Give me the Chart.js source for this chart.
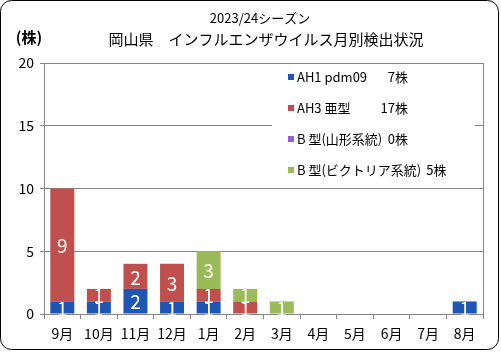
<!DOCTYPE html>
<html>
<head>
<meta charset="utf-8">
<script src="https://cdn.jsdelivr.net/npm/chart.js@4"></script>
<style>
  body { margin: 0; background: #fff; }
  canvas { display: block; }
</style>
</head>
<body>
<canvas id="chartInfluenza" width="501" height="352"></canvas>
<script>
/* 岡山県 インフルエンザウイルス月別検出状況 */
const months = ['9月', '10月', '11月', '12月', '1月', '2月', '3月', '4月', '5月', '6月', '7月', '8月'];
const ah1 = [1, 1, 2, 1, 1, 0, 0, 0, 0, 0, 0, 1];
const ah3 = [9, 1, 2, 3, 1, 1, 0, 0, 0, 0, 0, 0];
const bYamagata = [0, 0, 0, 0, 0, 0, 0, 0, 0, 0, 0, 0];
const bVictoria = [0, 0, 0, 0, 3, 1, 1, 0, 0, 0, 0, 0];
const seriesNames = ['AH1 pdm09', 'AH3 亜型', 'B 型(山形系統)', 'B 型(ビクトリア系統)'];
const seriesCounts = ['7株', '17株', '0株', '5株'];
const seriesColors = ['#1f56b6', '#c0504d', '#9b5fcf', '#9bbb59'];
const titleLines = ['2023/24シーズン', '岡山県　インフルエンザウイルス月別検出状況'];
const unitLabel = '(株)';

const FONT = '"Noto Sans CJK JP", "Noto Sans", sans-serif';
const GRID = '#868686';

// 凡例・タイトル・値ラベル・枠
const extras = {
  id: 'extras',
  afterDatasetsDraw(chart) {
    const ctx = chart.ctx;
    ctx.save();
    ctx.fillStyle = '#fff';
    ctx.font = '19px ' + FONT;
    ctx.textAlign = 'center';
    ctx.textBaseline = 'middle';
    chart.data.datasets.forEach((ds, i) => {
      chart.getDatasetMeta(i).data.forEach((bar, j) => {
        let v = ds.data[j];
        if (!v) return;
        ctx.fillText(String(v), bar.x, (bar.y + bar.base) / 2 + 1);
      });
    });
    ctx.restore();
  },
  afterDraw(chart) {
    const ctx = chart.ctx;
    const area = chart.chartArea;
    ctx.save();

    // 右端の線
    ctx.strokeStyle = GRID;
    ctx.lineWidth = 1;
    ctx.beginPath();
    ctx.moveTo(Math.round(area.right) + 0.5, area.top);
    ctx.lineTo(Math.round(area.right) + 0.5, area.bottom + 5);
    ctx.stroke();

    // 凡例
    ctx.fillStyle = '#fff';
    ctx.fillRect(272, 64, 203, 120);
    ctx.font = '13px ' + FONT;
    ctx.textBaseline = 'middle';
    chart.data.datasets.forEach((ds, i) => {
      let y = 77 + i * 31;
      ctx.fillStyle = ds.backgroundColor;
      ctx.fillRect(288, y - 3, 6, 6);
      ctx.fillStyle = '#000';
      ctx.textAlign = 'left';
      ctx.fillText(ds.label, 297, y);
      let nameEnd = 297 + ctx.measureText(ds.label).width;
      let cw = ctx.measureText(seriesCounts[i]).width;
      ctx.textAlign = 'right';
      ctx.fillText(seriesCounts[i], Math.max(408, nameEnd + 5 + cw), y);
    });

    // タイトル
    ctx.fillStyle = '#000';
    ctx.textAlign = 'center';
    ctx.font = '13px ' + FONT;
    ctx.fillText(titleLines[0], 260, 18);
    ctx.font = '15px ' + FONT;
    ctx.fillText(titleLines[1], 266, 39);

    ctx.font = 'bold 15px ' + FONT;
    ctx.fillText(unitLabel, 29, 37);

    // 外枠
    ctx.strokeStyle = '#000';
    ctx.lineWidth = 1;
    ctx.beginPath();
    ctx.roundRect(0.5, 0.5, 498, 349, 11);
    ctx.stroke();
    ctx.restore();
  }
};

const ctx = document.getElementById('chartInfluenza').getContext('2d');
const datasets = [ah1, ah3, bYamagata, bVictoria].map((d, i) => ({
  label: seriesNames[i],
  data: d,
  backgroundColor: seriesColors[i],
  borderWidth: 0,
  categoryPercentage: 1,
  barPercentage: 0.656,
}));

const myChart = new Chart(ctx, {
  type: 'bar',
  plugins: [extras],
  data: { labels: months, datasets: datasets },
  options: {
    responsive: false,
    animation: false,
    layout: { padding: { top: 63, right: 18, left: 0, bottom: 0 } },
    scales: {
      x: {
        stacked: true,
        afterFit: (s) => { s.height = 38; },
        grid: { drawOnChartArea: false, tickLength: 5, color: GRID, offset: true },
        border: { color: GRID },
        ticks: { color: '#000', padding: 6, font: { family: FONT, size: 14 } },
      },
      y: {
        stacked: true,
        min: 0,
        max: 20,
        afterFit: (s) => { s.width = 44; },
        grid: { color: GRID, tickLength: 4 },
        border: { color: GRID },
        ticks: { stepSize: 5, color: '#000', padding: 6, font: { family: FONT, size: 14 } },
      },
    },
    plugins: {
      legend: { display: false },
      title: { display: false },
      tooltip: { enabled: false },
    },
  },
});
</script>
</body>
</html>
